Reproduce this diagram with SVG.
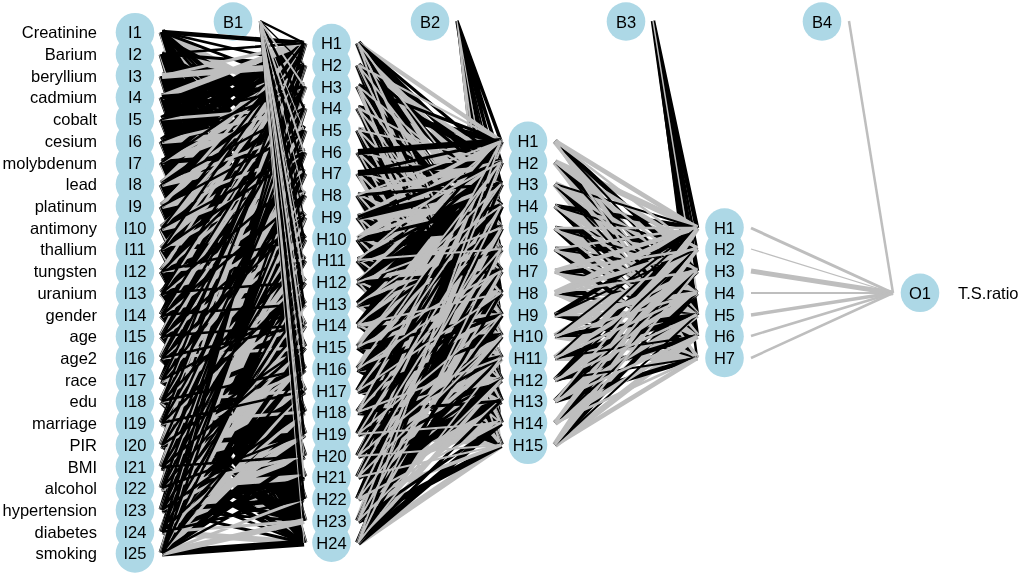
<svg xmlns="http://www.w3.org/2000/svg" width="1021" height="576" viewBox="0 0 1021 576">
<style>
.n{fill:#add8e6;mix-blend-mode:darken}
text{font-family:"Liberation Sans",Arial,"DejaVu Sans",sans-serif;font-size:16.5px;fill:#000}
.c{text-anchor:middle}
.r{text-anchor:end}
.l{text-anchor:start}
path{fill:none;stroke-linecap:butt;stroke-linejoin:miter}
.k{stroke:#000}
.g{stroke:#bebebe}
</style>
<rect width="1021" height="576" fill="#fff"/>
<g id="connectors">
<!-- bias B2 / B3 (drawn under the mesh) -->
<path class="k" stroke-width="3.5" d="M457 21L501 141M457 21L501 162M457 21L501 184M457 21L501 228M457 21L501 293"/>
<path class="k" stroke-width="1.8" d="M457 21L501 206M457 21L501 249M457 21L501 315M457 21L501 380M457 21L501 423"/>
<path class="g" stroke-width="1.2" d="M457 21L501 271M457 21L501 336M457 21L501 358M457 21L501 401M457 21L501 445"/>
<path class="k" stroke-width="4.5" d="M653 21L697 228M653 21L697 271M653 21L697 315M653 21L697 336"/>
<path class="k" stroke-width="2.5" d="M653 21L697 249M653 21L697 358"/>
<path class="g" stroke-width="1.5" d="M653 21L697 293"/>
<!-- input -> hidden layer 1 : downward lines -->
<path class="k" stroke-width="7" d="M162 32L304 130M162 32L304 239M162 32L304 347M162 32L304 456M162 162L304 239M162 162L304 347M162 162L304 456M162 293L304 347M162 293L304 456M162 423L304 456M162 76L304 86M162 76L304 195M162 76L304 304M162 76L304 412M162 76L304 521M162 206L304 304M162 206L304 412M162 206L304 521M162 271L304 304M162 271L304 412M162 271L304 521M162 445L304 521M162 467L304 521M162 119L304 152M162 119L304 260M162 119L304 369M162 119L304 477M162 141L304 152M162 141L304 260M162 141L304 369M162 141L304 477M162 315L304 369M162 315L304 477M162 380L304 477M162 54L304 108M162 54L304 217M162 54L304 325M162 54L304 434M162 54L304 543M162 228L304 325M162 228L304 434M162 228L304 543M162 249L304 325M162 249L304 434M162 249L304 543M162 401L304 434M162 401L304 543M162 97L304 173M162 97L304 282M162 97L304 391M162 97L304 499M162 184L304 282M162 184L304 391M162 184L304 499M162 336L304 391M162 336L304 499M162 358L304 391M162 358L304 499M162 488L304 499"/>
<path class="g" stroke-width="6" d="M162 32L304 108M162 32L304 217M162 32L304 325M162 32L304 434M162 32L304 543M162 162L304 217M162 162L304 325M162 162L304 434M162 162L304 543M162 293L304 325M162 293L304 434M162 293L304 543M162 423L304 434M162 423L304 543M162 532L304 543M162 76L304 173M162 76L304 282M162 76L304 391M162 76L304 499M162 206L304 282M162 206L304 391M162 206L304 499M162 271L304 282M162 271L304 391M162 271L304 499M162 445L304 499M162 467L304 499M162 119L304 130M162 119L304 239M162 119L304 347M162 119L304 456M162 141L304 239M162 141L304 347M162 141L304 456M162 315L304 347M162 315L304 456M162 380L304 456M162 54L304 86M162 54L304 195M162 54L304 304M162 54L304 412M162 54L304 521M162 228L304 304M162 228L304 412M162 228L304 521M162 249L304 304M162 249L304 412M162 249L304 521M162 401L304 412M162 401L304 521M162 97L304 152M162 97L304 260M162 97L304 369M162 97L304 477M162 184L304 260M162 184L304 369M162 184L304 477M162 336L304 369M162 336L304 477M162 358L304 369M162 358L304 477"/>
<path class="k" stroke-width="4.5" d="M162 32L304 43M162 32L304 152M162 32L304 260M162 32L304 369M162 32L304 477M162 162L304 260M162 162L304 369M162 162L304 477M162 293L304 369M162 293L304 477M162 423L304 477M162 76L304 108M162 76L304 217M162 76L304 325M162 76L304 434M162 76L304 543M162 206L304 217M162 206L304 325M162 206L304 434M162 206L304 543M162 271L304 325M162 271L304 434M162 271L304 543M162 445L304 543M162 467L304 543M162 119L304 173M162 119L304 282M162 119L304 391M162 119L304 499M162 141L304 173M162 141L304 282M162 141L304 391M162 141L304 499M162 315L304 391M162 315L304 499M162 380L304 391M162 380L304 499M162 54L304 130M162 54L304 239M162 54L304 347M162 54L304 456M162 228L304 239M162 228L304 347M162 228L304 456M162 249L304 347M162 249L304 456M162 401L304 456M162 97L304 195M162 97L304 304M162 97L304 412M162 97L304 521M162 184L304 195M162 184L304 304M162 184L304 412M162 184L304 521M162 336L304 412M162 336L304 521M162 358L304 412M162 358L304 521M162 488L304 521"/>
<path class="k" stroke-width="3" d="M162 32L304 86M162 32L304 195M162 32L304 304M162 32L304 412M162 32L304 521M162 162L304 195M162 162L304 304M162 162L304 412M162 162L304 521M162 293L304 304M162 293L304 412M162 293L304 521M162 423L304 521M162 76L304 152M162 76L304 260M162 76L304 369M162 76L304 477M162 206L304 260M162 206L304 369M162 206L304 477M162 271L304 369M162 271L304 477M162 445L304 477M162 467L304 477M162 119L304 217M162 119L304 325M162 119L304 434M162 119L304 543M162 141L304 217M162 141L304 325M162 141L304 434M162 141L304 543M162 315L304 325M162 315L304 434M162 315L304 543M162 380L304 434M162 380L304 543M162 510L304 543M162 54L304 65M162 54L304 173M162 54L304 282M162 54L304 391M162 54L304 499M162 228L304 282M162 228L304 391M162 228L304 499M162 249L304 282M162 249L304 391M162 249L304 499M162 401L304 499M162 97L304 130M162 97L304 239M162 97L304 347M162 97L304 456M162 184L304 239M162 184L304 347M162 184L304 456M162 336L304 347M162 336L304 456M162 358L304 456"/>
<path class="k" stroke-width="2.5" d="M162 32L304 65M162 32L304 173M162 32L304 282M162 32L304 391M162 32L304 499M162 162L304 173M162 162L304 282M162 162L304 391M162 162L304 499M162 293L304 391M162 293L304 499M162 423L304 499M162 76L304 130M162 76L304 239M162 76L304 347M162 76L304 456M162 206L304 239M162 206L304 347M162 206L304 456M162 271L304 347M162 271L304 456M162 445L304 456M162 119L304 195M162 119L304 304M162 119L304 412M162 119L304 521M162 141L304 195M162 141L304 304M162 141L304 412M162 141L304 521M162 315L304 412M162 315L304 521M162 380L304 412M162 380L304 521M162 510L304 521M162 54L304 152M162 54L304 260M162 54L304 369M162 54L304 477M162 228L304 260M162 228L304 369M162 228L304 477M162 249L304 260M162 249L304 369M162 249L304 477M162 401L304 477M162 97L304 108M162 97L304 217M162 97L304 325M162 97L304 434M162 97L304 543M162 184L304 217M162 184L304 325M162 184L304 434M162 184L304 543M162 336L304 434M162 336L304 543M162 358L304 434M162 358L304 543M162 488L304 543"/>
<!-- input -> hidden layer 1 : upward lines -->
<path class="k" stroke-width="7" d="M162 162L304 130M162 293L304 130M162 293L304 239M162 423L304 130M162 423L304 239M162 423L304 347M162 532L304 130M162 532L304 239M162 532L304 347M162 532L304 456M162 206L304 86M162 206L304 195M162 271L304 86M162 271L304 195M162 445L304 86M162 445L304 195M162 445L304 304M162 445L304 412M162 467L304 86M162 467L304 195M162 467L304 304M162 467L304 412M162 119L304 43M162 141L304 43M162 315L304 43M162 315L304 152M162 315L304 260M162 380L304 43M162 380L304 152M162 380L304 260M162 380L304 369M162 510L304 43M162 510L304 152M162 510L304 260M162 510L304 369M162 510L304 477M162 228L304 108M162 228L304 217M162 249L304 108M162 249L304 217M162 401L304 108M162 401L304 217M162 401L304 325M162 553L304 108M162 553L304 217M162 553L304 325M162 553L304 434M162 553L304 543M162 97L304 65M162 184L304 65M162 184L304 173M162 336L304 65M162 336L304 173M162 336L304 282M162 358L304 65M162 358L304 173M162 358L304 282M162 488L304 65M162 488L304 173M162 488L304 282M162 488L304 391"/>
<path class="g" stroke-width="6" d="M162 162L304 108M162 293L304 108M162 293L304 217M162 423L304 108M162 423L304 217M162 423L304 325M162 532L304 108M162 532L304 217M162 532L304 325M162 532L304 434M162 76L304 65M162 206L304 65M162 206L304 173M162 271L304 65M162 271L304 173M162 445L304 65M162 445L304 173M162 445L304 282M162 445L304 391M162 467L304 65M162 467L304 173M162 467L304 282M162 467L304 391M162 141L304 130M162 315L304 130M162 315L304 239M162 380L304 130M162 380L304 239M162 380L304 347M162 510L304 130M162 510L304 239M162 510L304 347M162 510L304 456M162 228L304 86M162 228L304 195M162 249L304 86M162 249L304 195M162 401L304 86M162 401L304 195M162 401L304 304M162 553L304 86M162 553L304 195M162 553L304 304M162 553L304 412M162 553L304 521M162 97L304 43M162 184L304 43M162 184L304 152M162 336L304 43M162 336L304 152M162 336L304 260M162 358L304 43M162 358L304 152M162 358L304 260M162 488L304 43M162 488L304 152M162 488L304 260M162 488L304 369M162 488L304 477"/>
<path class="k" stroke-width="4.5" d="M162 162L304 43M162 162L304 152M162 293L304 43M162 293L304 152M162 293L304 260M162 423L304 43M162 423L304 152M162 423L304 260M162 423L304 369M162 532L304 43M162 532L304 152M162 532L304 260M162 532L304 369M162 532L304 477M162 206L304 108M162 271L304 108M162 271L304 217M162 445L304 108M162 445L304 217M162 445L304 325M162 445L304 434M162 467L304 108M162 467L304 217M162 467L304 325M162 467L304 434M162 119L304 65M162 141L304 65M162 315L304 65M162 315L304 173M162 315L304 282M162 380L304 65M162 380L304 173M162 380L304 282M162 510L304 65M162 510L304 173M162 510L304 282M162 510L304 391M162 510L304 499M162 228L304 130M162 249L304 130M162 249L304 239M162 401L304 130M162 401L304 239M162 401L304 347M162 553L304 130M162 553L304 239M162 553L304 347M162 553L304 456M162 97L304 86M162 184L304 86M162 336L304 86M162 336L304 195M162 336L304 304M162 358L304 86M162 358L304 195M162 358L304 304M162 488L304 86M162 488L304 195M162 488L304 304M162 488L304 412"/>
<path class="g" stroke-width="3" d="M162 162L304 86M162 293L304 86M162 293L304 195M162 423L304 86M162 423L304 195M162 423L304 304M162 423L304 412M162 532L304 86M162 532L304 195M162 532L304 304M162 532L304 412M162 532L304 521M162 76L304 43M162 206L304 43M162 206L304 152M162 271L304 43M162 271L304 152M162 271L304 260M162 445L304 43M162 445L304 152M162 445L304 260M162 445L304 369M162 467L304 43M162 467L304 152M162 467L304 260M162 467L304 369M162 119L304 108M162 141L304 108M162 315L304 108M162 315L304 217M162 380L304 108M162 380L304 217M162 380L304 325M162 510L304 108M162 510L304 217M162 510L304 325M162 510L304 434M162 228L304 65M162 228L304 173M162 249L304 65M162 249L304 173M162 401L304 65M162 401L304 173M162 401L304 282M162 401L304 391M162 553L304 65M162 553L304 173M162 553L304 282M162 553L304 391M162 553L304 499M162 184L304 130M162 336L304 130M162 336L304 239M162 358L304 130M162 358L304 239M162 358L304 347M162 488L304 130M162 488L304 239M162 488L304 347M162 488L304 456"/>
<path class="k" stroke-width="2.5" d="M162 162L304 65M162 293L304 65M162 293L304 173M162 293L304 282M162 423L304 65M162 423L304 173M162 423L304 282M162 423L304 391M162 532L304 65M162 532L304 173M162 532L304 282M162 532L304 391M162 532L304 499M162 206L304 130M162 271L304 130M162 271L304 239M162 445L304 130M162 445L304 239M162 445L304 347M162 467L304 130M162 467L304 239M162 467L304 347M162 467L304 456M162 119L304 86M162 141L304 86M162 315L304 86M162 315L304 195M162 315L304 304M162 380L304 86M162 380L304 195M162 380L304 304M162 510L304 86M162 510L304 195M162 510L304 304M162 510L304 412M162 54L304 43M162 228L304 43M162 228L304 152M162 249L304 43M162 249L304 152M162 401L304 43M162 401L304 152M162 401L304 260M162 401L304 369M162 553L304 43M162 553L304 152M162 553L304 260M162 553L304 369M162 553L304 477M162 184L304 108M162 336L304 108M162 336L304 217M162 336L304 325M162 358L304 108M162 358L304 217M162 358L304 325M162 488L304 108M162 488L304 217M162 488L304 325M162 488L304 434"/>
<!-- bias B1 -->
<path class="k" stroke-width="2.5" d="M260 21L304 43M260 21L304 108M260 21L304 173M260 21L304 239M260 21L304 304M260 21L304 369M260 21L304 434M260 21L304 499"/>
<path class="k" stroke-width="1.2" d="M260 21L304 65M260 21L304 217M260 21L304 412M260 21L304 521"/>
<path class="g" stroke-width="2" d="M260 21L304 86M260 21L304 152M260 21L304 282M260 21L304 347M260 21L304 477"/>
<path class="g" stroke-width="1" d="M260 21L304 130M260 21L304 195M260 21L304 260M260 21L304 325M260 21L304 391M260 21L304 456M260 21L304 543"/>
<!-- hidden 1 -> hidden 2 : downward lines -->
<path class="g" stroke-width="6.5" d="M358 65L501 228M358 65L501 336M358 65L501 445M358 195L501 228M358 195L501 336M358 195L501 445M358 260L501 336M358 260L501 445M358 412L501 445M358 108L501 162M358 108L501 271M358 108L501 380M358 152L501 162M358 152L501 271M358 152L501 380M358 325L501 380M358 43L501 206M358 43L501 315M358 43L501 423M358 217L501 315M358 217L501 423M358 282L501 315M358 282L501 423M358 130L501 141M358 130L501 249M358 130L501 358M358 239L501 249M358 239L501 358M358 347L501 358M358 86L501 184M358 86L501 293M358 86L501 401M358 173L501 184M358 173L501 293M358 173L501 401M358 304L501 401"/>
<path class="k" stroke-width="6" d="M358 65L501 206M358 65L501 315M358 65L501 423M358 195L501 206M358 195L501 315M358 195L501 423M358 260L501 315M358 260L501 423M358 412L501 423M358 108L501 141M358 108L501 249M358 108L501 358M358 152L501 249M358 152L501 358M358 325L501 358M358 43L501 184M358 43L501 293M358 43L501 401M358 217L501 293M358 217L501 401M358 282L501 293M358 282L501 401M358 130L501 228M358 130L501 336M358 130L501 445M358 239L501 336M358 239L501 445M358 347L501 445M358 369L501 445M358 86L501 162M358 86L501 271M358 86L501 380M358 173L501 271M358 173L501 380M358 304L501 380"/>
<path class="g" stroke-width="4" d="M358 65L501 162M358 65L501 271M358 65L501 380M358 195L501 271M358 195L501 380M358 260L501 271M358 260L501 380M358 108L501 206M358 108L501 315M358 108L501 423M358 152L501 206M358 152L501 315M358 152L501 423M358 325L501 423M358 391L501 423M358 43L501 141M358 43L501 249M358 43L501 358M358 217L501 249M358 217L501 358M358 282L501 358M358 130L501 184M358 130L501 293M358 130L501 401M358 239L501 293M358 239L501 401M358 347L501 401M358 369L501 401M358 86L501 228M358 86L501 336M358 86L501 445M358 173L501 228M358 173L501 336M358 173L501 445M358 304L501 336M358 304L501 445M358 434L501 445"/>
<path class="k" stroke-width="3" d="M358 65L501 184M358 65L501 293M358 65L501 401M358 195L501 293M358 195L501 401M358 260L501 293M358 260L501 401M358 108L501 228M358 108L501 336M358 108L501 445M358 152L501 228M358 152L501 336M358 152L501 445M358 325L501 336M358 325L501 445M358 391L501 445M358 43L501 162M358 43L501 271M358 43L501 380M358 217L501 271M358 217L501 380M358 282L501 380M358 130L501 206M358 130L501 315M358 130L501 423M358 239L501 315M358 239L501 423M358 347L501 423M358 369L501 423M358 86L501 141M358 86L501 249M358 86L501 358M358 173L501 249M358 173L501 358M358 304L501 358"/>
<path class="g" stroke-width="2" d="M358 65L501 141M358 65L501 249M358 65L501 358M358 195L501 249M358 195L501 358M358 260L501 358M358 108L501 184M358 108L501 293M358 108L501 401M358 152L501 184M358 152L501 293M358 152L501 401M358 325L501 401M358 391L501 401M358 43L501 228M358 43L501 336M358 43L501 445M358 217L501 228M358 217L501 336M358 217L501 445M358 282L501 336M358 282L501 445M358 130L501 162M358 130L501 271M358 130L501 380M358 239L501 271M358 239L501 380M358 347L501 380M358 369L501 380M358 86L501 206M358 86L501 315M358 86L501 423M358 173L501 206M358 173L501 315M358 173L501 423M358 304L501 315M358 304L501 423"/>
<!-- hidden 1 -> hidden 2 : upward lines -->
<path class="g" stroke-width="6.5" d="M358 260L501 228M358 412L501 228M358 412L501 336M358 543L501 228M358 543L501 336M358 543L501 445M358 325L501 162M358 325L501 271M358 391L501 162M358 391L501 271M358 391L501 380M358 217L501 206M358 282L501 206M358 456L501 206M358 456L501 315M358 456L501 423M358 477L501 206M358 477L501 315M358 477L501 423M358 239L501 141M358 347L501 141M358 347L501 249M358 369L501 141M358 369L501 249M358 369L501 358M358 521L501 141M358 521L501 249M358 521L501 358M358 304L501 184M358 304L501 293M358 434L501 184M358 434L501 293M358 434L501 401M358 499L501 184M358 499L501 293M358 499L501 401"/>
<path class="k" stroke-width="6" d="M358 260L501 206M358 412L501 206M358 412L501 315M358 543L501 206M358 543L501 315M358 543L501 423M358 152L501 141M358 325L501 141M358 325L501 249M358 391L501 141M358 391L501 249M358 391L501 358M358 217L501 184M358 282L501 184M358 456L501 184M358 456L501 293M358 456L501 401M358 477L501 184M358 477L501 293M358 477L501 401M358 239L501 228M358 347L501 228M358 347L501 336M358 369L501 228M358 369L501 336M358 521L501 228M358 521L501 336M358 521L501 445M358 173L501 162M358 304L501 162M358 304L501 271M358 434L501 162M358 434L501 271M358 434L501 380M358 499L501 162M358 499L501 271M358 499L501 380"/>
<path class="g" stroke-width="4" d="M358 195L501 162M358 260L501 162M358 412L501 162M358 412L501 271M358 412L501 380M358 543L501 162M358 543L501 271M358 543L501 380M358 325L501 206M358 325L501 315M358 391L501 206M358 391L501 315M358 217L501 141M358 282L501 141M358 282L501 249M358 456L501 141M358 456L501 249M358 456L501 358M358 477L501 141M358 477L501 249M358 477L501 358M358 239L501 184M358 347L501 184M358 347L501 293M358 369L501 184M358 369L501 293M358 521L501 184M358 521L501 293M358 521L501 401M358 304L501 228M358 434L501 228M358 434L501 336M358 499L501 228M358 499L501 336M358 499L501 445"/>
<path class="k" stroke-width="3" d="M358 195L501 184M358 260L501 184M358 412L501 184M358 412L501 293M358 412L501 401M358 543L501 184M358 543L501 293M358 543L501 401M358 325L501 228M358 391L501 228M358 391L501 336M358 217L501 162M358 282L501 162M358 282L501 271M358 456L501 162M358 456L501 271M358 456L501 380M358 477L501 162M358 477L501 271M358 477L501 380M358 239L501 206M358 347L501 206M358 347L501 315M358 369L501 206M358 369L501 315M358 521L501 206M358 521L501 315M358 521L501 423M358 173L501 141M358 304L501 141M358 304L501 249M358 434L501 141M358 434L501 249M358 434L501 358M358 499L501 141M358 499L501 249M358 499L501 358"/>
<path class="g" stroke-width="2" d="M358 195L501 141M358 260L501 141M358 260L501 249M358 412L501 141M358 412L501 249M358 412L501 358M358 543L501 141M358 543L501 249M358 543L501 358M358 325L501 184M358 325L501 293M358 391L501 184M358 391L501 293M358 282L501 228M358 456L501 228M358 456L501 336M358 456L501 445M358 477L501 228M358 477L501 336M358 477L501 445M358 239L501 162M358 347L501 162M358 347L501 271M358 369L501 162M358 369L501 271M358 521L501 162M358 521L501 271M358 521L501 380M358 304L501 206M358 434L501 206M358 434L501 315M358 434L501 423M358 499L501 206M358 499L501 315M358 499L501 423"/>
<!-- hidden 2 -> hidden 3 : downward lines -->
<path class="g" stroke-width="6" d="M555 141L697 315M555 271L697 315M555 206L697 271M555 162L697 228M555 162L697 336M555 293L697 336M555 228L697 293M555 249L697 293M555 184L697 249M555 184L697 358M555 336L697 358M555 358L697 358"/>
<path class="k" stroke-width="4.5" d="M555 141L697 271M555 271L697 271M555 206L697 228M555 206L697 336M555 315L697 336M555 162L697 293M555 293L697 293M555 228L697 249M555 228L697 358M555 249L697 249M555 249L697 358M555 184L697 315"/>
<path class="g" stroke-width="4.5" d="M555 141L697 228M555 141L697 336M555 271L697 336M555 206L697 293M555 162L697 249M555 162L697 358M555 293L697 358M555 228L697 315M555 249L697 315M555 184L697 271"/>
<path class="k" stroke-width="2" d="M555 141L697 293M555 271L697 293M555 206L697 249M555 206L697 358M555 315L697 358M555 162L697 315M555 293L697 315M555 228L697 271M555 249L697 271M555 184L697 228M555 184L697 336M555 336L697 336"/>
<path class="g" stroke-width="2.5" d="M555 141L697 249M555 141L697 358M555 271L697 358M555 206L697 315M555 315L697 315M555 162L697 271M555 228L697 228M555 228L697 336M555 249L697 336M555 184L697 293"/>
<!-- hidden 2 -> hidden 3 : upward lines -->
<path class="g" stroke-width="6" d="M555 423L697 315M555 315L697 271M555 380L697 271M555 293L697 228M555 445L697 228M555 445L697 336M555 401L697 293M555 336L697 249M555 358L697 249"/>
<path class="k" stroke-width="4.5" d="M555 423L697 271M555 315L697 228M555 380L697 228M555 380L697 336M555 445L697 293M555 401L697 249M555 401L697 358M555 336L697 315M555 358L697 315"/>
<path class="g" stroke-width="4.5" d="M555 271L697 228M555 423L697 228M555 423L697 336M555 315L697 293M555 380L697 293M555 293L697 249M555 445L697 249M555 445L697 358M555 401L697 315M555 336L697 271M555 358L697 271"/>
<path class="k" stroke-width="2" d="M555 423L697 293M555 315L697 249M555 380L697 249M555 380L697 358M555 445L697 315M555 401L697 271M555 336L697 228M555 358L697 228M555 358L697 336"/>
<path class="g" stroke-width="2.5" d="M555 271L697 249M555 423L697 249M555 423L697 358M555 380L697 315M555 293L697 271M555 445L697 271M555 249L697 228M555 401L697 228M555 401L697 336M555 336L697 293M555 358L697 293"/>
<!-- hidden 3 -> output -->
<path class="g" stroke-width="3" d="M751 228L893 293"/>
<path class="g" stroke-width="1.3" d="M751 249L893 293"/>
<path class="g" stroke-width="5" d="M751 271L893 293"/>
<path class="g" stroke-width="2" d="M751 293L893 293"/>
<path class="g" stroke-width="3.5" d="M751 315L893 293"/>
<path class="g" stroke-width="2.5" d="M751 336L893 293"/>
<path class="g" stroke-width="2.5" d="M751 358L893 293"/>
<!-- bias B4 -->
<path class="g" stroke-width="2.5" d="M849 21L893 293"/>
</g>
<g id="inputs">
<g id="I1"><circle class="n" cx="135" cy="32.2" r="19.3"/><text class="c" x="135" y="38.2">I1</text><text class="r" x="97" y="38.2">Creatinine</text></g>
<g id="I2"><circle class="n" cx="135" cy="53.9" r="19.3"/><text class="c" x="135" y="59.9">I2</text><text class="r" x="97" y="59.9">Barium</text></g>
<g id="I3"><circle class="n" cx="135" cy="75.6" r="19.3"/><text class="c" x="135" y="81.6">I3</text><text class="r" x="97" y="81.6">beryllium</text></g>
<g id="I4"><circle class="n" cx="135" cy="97.3" r="19.3"/><text class="c" x="135" y="103.3">I4</text><text class="r" x="97" y="103.3">cadmium</text></g>
<g id="I5"><circle class="n" cx="135" cy="119" r="19.3"/><text class="c" x="135" y="125">I5</text><text class="r" x="97" y="125">cobalt</text></g>
<g id="I6"><circle class="n" cx="135" cy="140.8" r="19.3"/><text class="c" x="135" y="146.8">I6</text><text class="r" x="97" y="146.8">cesium</text></g>
<g id="I7"><circle class="n" cx="135" cy="162.5" r="19.3"/><text class="c" x="135" y="168.5">I7</text><text class="r" x="97" y="168.5">molybdenum</text></g>
<g id="I8"><circle class="n" cx="135" cy="184.2" r="19.3"/><text class="c" x="135" y="190.2">I8</text><text class="r" x="97" y="190.2">lead</text></g>
<g id="I9"><circle class="n" cx="135" cy="205.9" r="19.3"/><text class="c" x="135" y="211.9">I9</text><text class="r" x="97" y="211.9">platinum</text></g>
<g id="I10"><circle class="n" cx="135" cy="227.6" r="19.3"/><text class="c" x="135" y="233.6">I10</text><text class="r" x="97" y="233.6">antimony</text></g>
<g id="I11"><circle class="n" cx="135" cy="249.4" r="19.3"/><text class="c" x="135" y="255.4">I11</text><text class="r" x="97" y="255.4">thallium</text></g>
<g id="I12"><circle class="n" cx="135" cy="271.1" r="19.3"/><text class="c" x="135" y="277.1">I12</text><text class="r" x="97" y="277.1">tungsten</text></g>
<g id="I13"><circle class="n" cx="135" cy="292.8" r="19.3"/><text class="c" x="135" y="298.8">I13</text><text class="r" x="97" y="298.8">uranium</text></g>
<g id="I14"><circle class="n" cx="135" cy="314.5" r="19.3"/><text class="c" x="135" y="320.5">I14</text><text class="r" x="97" y="320.5">gender</text></g>
<g id="I15"><circle class="n" cx="135" cy="336.2" r="19.3"/><text class="c" x="135" y="342.2">I15</text><text class="r" x="97" y="342.2">age</text></g>
<g id="I16"><circle class="n" cx="135" cy="358" r="19.3"/><text class="c" x="135" y="364">I16</text><text class="r" x="97" y="364">age2</text></g>
<g id="I17"><circle class="n" cx="135" cy="379.7" r="19.3"/><text class="c" x="135" y="385.7">I17</text><text class="r" x="97" y="385.7">race</text></g>
<g id="I18"><circle class="n" cx="135" cy="401.4" r="19.3"/><text class="c" x="135" y="407.4">I18</text><text class="r" x="97" y="407.4">edu</text></g>
<g id="I19"><circle class="n" cx="135" cy="423.1" r="19.3"/><text class="c" x="135" y="429.1">I19</text><text class="r" x="97" y="429.1">marriage</text></g>
<g id="I20"><circle class="n" cx="135" cy="444.8" r="19.3"/><text class="c" x="135" y="450.8">I20</text><text class="r" x="97" y="450.8">PIR</text></g>
<g id="I21"><circle class="n" cx="135" cy="466.6" r="19.3"/><text class="c" x="135" y="472.6">I21</text><text class="r" x="97" y="472.6">BMI</text></g>
<g id="I22"><circle class="n" cx="135" cy="488.3" r="19.3"/><text class="c" x="135" y="494.3">I22</text><text class="r" x="97" y="494.3">alcohol</text></g>
<g id="I23"><circle class="n" cx="135" cy="510" r="19.3"/><text class="c" x="135" y="516">I23</text><text class="r" x="97" y="516">hypertension</text></g>
<g id="I24"><circle class="n" cx="135" cy="531.7" r="19.3"/><text class="c" x="135" y="537.7">I24</text><text class="r" x="97" y="537.7">diabetes</text></g>
<g id="I25"><circle class="n" cx="135" cy="553.4" r="19.3"/><text class="c" x="135" y="559.4">I25</text><text class="r" x="97" y="559.4">smoking</text></g>
</g>
<g id="hidden1">
<g id="L1H1"><circle class="n" cx="331.5" cy="43" r="19.3"/><text class="c" x="331.5" y="49">H1</text></g>
<g id="L1H2"><circle class="n" cx="331.5" cy="64.7" r="19.3"/><text class="c" x="331.5" y="70.7">H2</text></g>
<g id="L1H3"><circle class="n" cx="331.5" cy="86.5" r="19.3"/><text class="c" x="331.5" y="92.5">H3</text></g>
<g id="L1H4"><circle class="n" cx="331.5" cy="108.2" r="19.3"/><text class="c" x="331.5" y="114.2">H4</text></g>
<g id="L1H5"><circle class="n" cx="331.5" cy="129.9" r="19.3"/><text class="c" x="331.5" y="135.9">H5</text></g>
<g id="L1H6"><circle class="n" cx="331.5" cy="151.6" r="19.3"/><text class="c" x="331.5" y="157.6">H6</text></g>
<g id="L1H7"><circle class="n" cx="331.5" cy="173.3" r="19.3"/><text class="c" x="331.5" y="179.3">H7</text></g>
<g id="L1H8"><circle class="n" cx="331.5" cy="195.1" r="19.3"/><text class="c" x="331.5" y="201.1">H8</text></g>
<g id="L1H9"><circle class="n" cx="331.5" cy="216.8" r="19.3"/><text class="c" x="331.5" y="222.8">H9</text></g>
<g id="L1H10"><circle class="n" cx="331.5" cy="238.5" r="19.3"/><text class="c" x="331.5" y="244.5">H10</text></g>
<g id="L1H11"><circle class="n" cx="331.5" cy="260.2" r="19.3"/><text class="c" x="331.5" y="266.2">H11</text></g>
<g id="L1H12"><circle class="n" cx="331.5" cy="281.9" r="19.3"/><text class="c" x="331.5" y="287.9">H12</text></g>
<g id="L1H13"><circle class="n" cx="331.5" cy="303.7" r="19.3"/><text class="c" x="331.5" y="309.7">H13</text></g>
<g id="L1H14"><circle class="n" cx="331.5" cy="325.4" r="19.3"/><text class="c" x="331.5" y="331.4">H14</text></g>
<g id="L1H15"><circle class="n" cx="331.5" cy="347.1" r="19.3"/><text class="c" x="331.5" y="353.1">H15</text></g>
<g id="L1H16"><circle class="n" cx="331.5" cy="368.8" r="19.3"/><text class="c" x="331.5" y="374.8">H16</text></g>
<g id="L1H17"><circle class="n" cx="331.5" cy="390.5" r="19.3"/><text class="c" x="331.5" y="396.5">H17</text></g>
<g id="L1H18"><circle class="n" cx="331.5" cy="412.3" r="19.3"/><text class="c" x="331.5" y="418.3">H18</text></g>
<g id="L1H19"><circle class="n" cx="331.5" cy="434" r="19.3"/><text class="c" x="331.5" y="440">H19</text></g>
<g id="L1H20"><circle class="n" cx="331.5" cy="455.7" r="19.3"/><text class="c" x="331.5" y="461.7">H20</text></g>
<g id="L1H21"><circle class="n" cx="331.5" cy="477.4" r="19.3"/><text class="c" x="331.5" y="483.4">H21</text></g>
<g id="L1H22"><circle class="n" cx="331.5" cy="499.1" r="19.3"/><text class="c" x="331.5" y="505.1">H22</text></g>
<g id="L1H23"><circle class="n" cx="331.5" cy="520.9" r="19.3"/><text class="c" x="331.5" y="526.9">H23</text></g>
<g id="L1H24"><circle class="n" cx="331.5" cy="542.6" r="19.3"/><text class="c" x="331.5" y="548.6">H24</text></g>
</g>
<g id="hidden2">
<g id="L2H1"><circle class="n" cx="528" cy="140.8" r="19.3"/><text class="c" x="528" y="146.8">H1</text></g>
<g id="L2H2"><circle class="n" cx="528" cy="162.5" r="19.3"/><text class="c" x="528" y="168.5">H2</text></g>
<g id="L2H3"><circle class="n" cx="528" cy="184.2" r="19.3"/><text class="c" x="528" y="190.2">H3</text></g>
<g id="L2H4"><circle class="n" cx="528" cy="205.9" r="19.3"/><text class="c" x="528" y="211.9">H4</text></g>
<g id="L2H5"><circle class="n" cx="528" cy="227.6" r="19.3"/><text class="c" x="528" y="233.6">H5</text></g>
<g id="L2H6"><circle class="n" cx="528" cy="249.4" r="19.3"/><text class="c" x="528" y="255.4">H6</text></g>
<g id="L2H7"><circle class="n" cx="528" cy="271.1" r="19.3"/><text class="c" x="528" y="277.1">H7</text></g>
<g id="L2H8"><circle class="n" cx="528" cy="292.8" r="19.3"/><text class="c" x="528" y="298.8">H8</text></g>
<g id="L2H9"><circle class="n" cx="528" cy="314.5" r="19.3"/><text class="c" x="528" y="320.5">H9</text></g>
<g id="L2H10"><circle class="n" cx="528" cy="336.2" r="19.3"/><text class="c" x="528" y="342.2">H10</text></g>
<g id="L2H11"><circle class="n" cx="528" cy="358" r="19.3"/><text class="c" x="528" y="364">H11</text></g>
<g id="L2H12"><circle class="n" cx="528" cy="379.7" r="19.3"/><text class="c" x="528" y="385.7">H12</text></g>
<g id="L2H13"><circle class="n" cx="528" cy="401.4" r="19.3"/><text class="c" x="528" y="407.4">H13</text></g>
<g id="L2H14"><circle class="n" cx="528" cy="423.1" r="19.3"/><text class="c" x="528" y="429.1">H14</text></g>
<g id="L2H15"><circle class="n" cx="528" cy="444.8" r="19.3"/><text class="c" x="528" y="450.8">H15</text></g>
</g>
<g id="hidden3">
<g id="L3H1"><circle class="n" cx="724.5" cy="227.6" r="19.3"/><text class="c" x="724.5" y="233.6">H1</text></g>
<g id="L3H2"><circle class="n" cx="724.5" cy="249.4" r="19.3"/><text class="c" x="724.5" y="255.4">H2</text></g>
<g id="L3H3"><circle class="n" cx="724.5" cy="271.1" r="19.3"/><text class="c" x="724.5" y="277.1">H3</text></g>
<g id="L3H4"><circle class="n" cx="724.5" cy="292.8" r="19.3"/><text class="c" x="724.5" y="298.8">H4</text></g>
<g id="L3H5"><circle class="n" cx="724.5" cy="314.5" r="19.3"/><text class="c" x="724.5" y="320.5">H5</text></g>
<g id="L3H6"><circle class="n" cx="724.5" cy="336.2" r="19.3"/><text class="c" x="724.5" y="342.2">H6</text></g>
<g id="L3H7"><circle class="n" cx="724.5" cy="358" r="19.3"/><text class="c" x="724.5" y="364">H7</text></g>
</g>
<g id="O1"><circle class="n" cx="920" cy="292.8" r="19.3"/><text class="c" x="920" y="298.8">O1</text><text class="l" x="958" y="298.8">T.S.ratio</text></g>
<g id="B1"><circle class="n" cx="233" cy="21.5" r="19.3"/><text class="c" x="233" y="27.5">B1</text></g>
<g id="B2"><circle class="n" cx="430" cy="21.5" r="19.3"/><text class="c" x="430" y="27.5">B2</text></g>
<g id="B3"><circle class="n" cx="626" cy="21.5" r="19.3"/><text class="c" x="626" y="27.5">B3</text></g>
<g id="B4"><circle class="n" cx="822" cy="21.5" r="19.3"/><text class="c" x="822" y="27.5">B4</text></g>
</svg>
